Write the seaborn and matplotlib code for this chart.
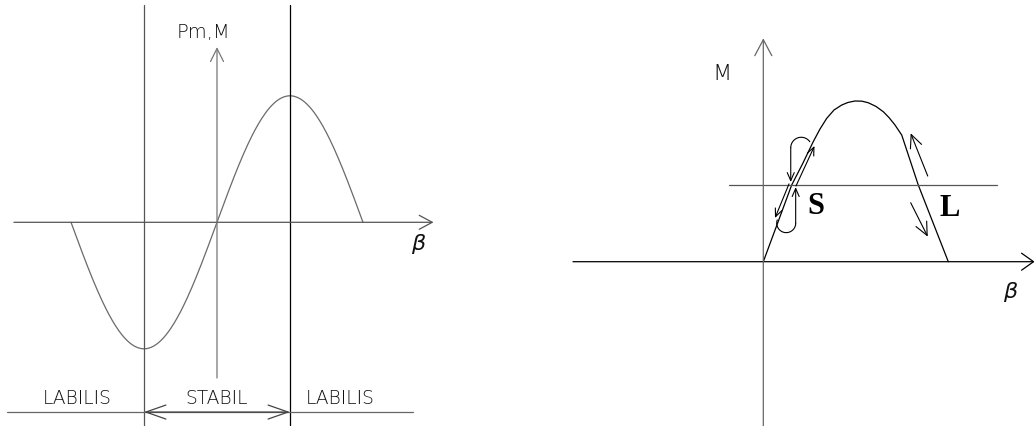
import numpy as np
import pandas as pd
import seaborn as sns
import matplotlib
matplotlib.use("Agg")
import matplotlib.pyplot as plt

# ---- left diagram: synchronous machine power/torque vs. load angle ----
beta_span = np.linspace(-np.pi, np.pi, 361)         # load angle, rad
pm_max = 1.0                                         # peak of Pm,M
pm_curve = pm_max * np.sin(beta_span)
stability_bounds = [-np.pi / 2, np.pi / 2]           # edges of the stable zone
zone_labels = ["LABILIS", "STABIL", "LABILIS"]
zone_centers = [-3.01, 0.0, 2.65]

# ---- right diagram: torque curve with operating points S and L ----
beta_deg = [0, 13.8, 27.6, 38.6, 48.6, 55.2, 61.7, 68.8, 76.3, 82.4, 89.2,
            96.0, 102.2, 109.7, 116.8, 122.3, 128.1, 134.7, 150.8, 180.0]
torque = [0, 0.238, 0.477, 0.614, 0.747, 0.826, 0.892, 0.944, 0.975, 0.991,
          1.0, 0.999, 0.989, 0.966, 0.933, 0.897, 0.851, 0.788, 0.477, 0.0]
load_torque = 0.477

W, H = 1034, 426
fig = plt.figure(figsize=(W / 100, H / 100), dpi=100)
sns.set_theme(style="white")
plt.rcParams["font.family"] = ["DejaVu Sans"]


def frame(x0, x1, ox, sx, oy, sy):
    """Axes spanning figure pixels x0..x1, with data origin at (ox, oy) px."""
    ax = fig.add_axes([x0 / W, 0, (x1 - x0) / W, 1])
    ax.set_xlim((x0 - ox) / sx, (x1 - ox) / sx)
    ax.set_ylim((oy - H) / sy, oy / sy)
    ax.axis("off")
    return ax


def arrow(ax, start, end, color, lw, hl, hw, style="->"):
    ax.annotate("", xy=end, xytext=start, annotation_clip=False,
                arrowprops=dict(arrowstyle=f"{style},head_length={hl * 0.72},"
                                           f"head_width={hw * 0.72}",
                                color=color, lw=lw, shrinkA=0, shrinkB=0,
                                mutation_scale=1))


LW = 0.9
thin = dict(ha="center", va="center", color="#111111", fontweight="light")

# ================= left diagram =================
axl = frame(0, 517, 217, 46.47, 222.3, 126.5)

sns.lineplot(x=beta_span, y=pm_curve, ax=axl, color="#6a6a6a", lw=LW,
             sort=False, estimator=None)
# beta axis and Pm,M axis
arrow(axl, (-4.37, 0), (4.66, 0), "#555555", LW, 13, 7)
arrow(axl, (0, -1.231), (0, 1.385), "#777777", LW, 13, 6.5)
# stability boundaries
axl.plot([stability_bounds[0]] * 2, [-1.9, 1.718], color="#555555", lw=LW)
axl.plot([stability_bounds[1]] * 2, [-1.9, 1.718], color="#000000", lw=LW)
# zone bar along the bottom
axl.plot([-4.52, 4.22], [-1.50, -1.50], color="#666666", lw=LW)
arrow(axl, (stability_bounds[0], -1.50), (stability_bounds[1], -1.50),
      "#444444", LW, 20, 7, style="<->")
for name, xc in zip(zone_labels, zone_centers):
    axl.text(xc, -1.389, name, fontsize=13.5, **thin)
axl.text(-0.30, 1.50, "Pm,M", fontsize=14, **thin)
axl.text(4.33, -0.17, "β", fontsize=16, style="italic", **thin)

# ================= right diagram =================
axr = frame(517, 1034, 763.3, 185 / 180, 261.7, 160.7)

sns.lineplot(x=beta_deg, y=torque, ax=axr, color="black", lw=LW,
             sort=False, estimator=None)
arrow(axr, (-185.2, 0), (264.0, 0), "black", LW, 12, 8.5)
arrow(axr, (0, -1.1), (0, 1.390), "#666666", LW, 16, 8.5)
axr.plot([-33.4, 227.3], [load_torque, load_torque], color="#555555", lw=LW)

# swing around the stable point S
arrow(axr, (31.8, 0.471), (49.8, 0.720), "black", 0.8, 8, 3.5)
arrow(axr, (25.0, 0.484), (11.4, 0.272), "black", 0.8, 8, 3.5)
t_up = np.radians(np.linspace(35, 180, 40))
axr.plot(36.9 + 10.2 * np.cos(t_up), 0.709 + 0.0653 * np.sin(t_up),
         color="black", lw=0.8)
arrow(axr, (26.7, 0.709), (26.7, 0.496), "black", 0.8, 8, 3.5)
t_dn = np.radians(np.linspace(0, -200, 50))
axr.plot(22.3 + 9.24 * np.cos(t_dn), 0.240 + 0.0591 * np.sin(t_dn),
         color="black", lw=0.8)
arrow(axr, (31.5, 0.240), (31.5, 0.464), "black", 0.8, 8, 3.5)

# drift away from the unstable point L
arrow(axr, (160.0, 0.533), (143.4, 0.799), "black", 0.8, 13, 6)
arrow(axr, (143.4, 0.367), (160.0, 0.156), "black", 0.8, 13, 6)

serif_bold = dict(family="Liberation Serif", fontweight="bold", fontsize=22,
                  ha="center", va="center", color="black")
axr.text(50.8, 0.345, "S", **serif_bold)
axr.text(181.0, 0.334, "L", **serif_bold)
axr.text(-40.2, 1.165, "M", fontsize=16, **thin)
axr.text(240.0, -0.187, "β", fontsize=16, style="italic", **thin)

fig.savefig("out.png", dpi=100, facecolor="white")
